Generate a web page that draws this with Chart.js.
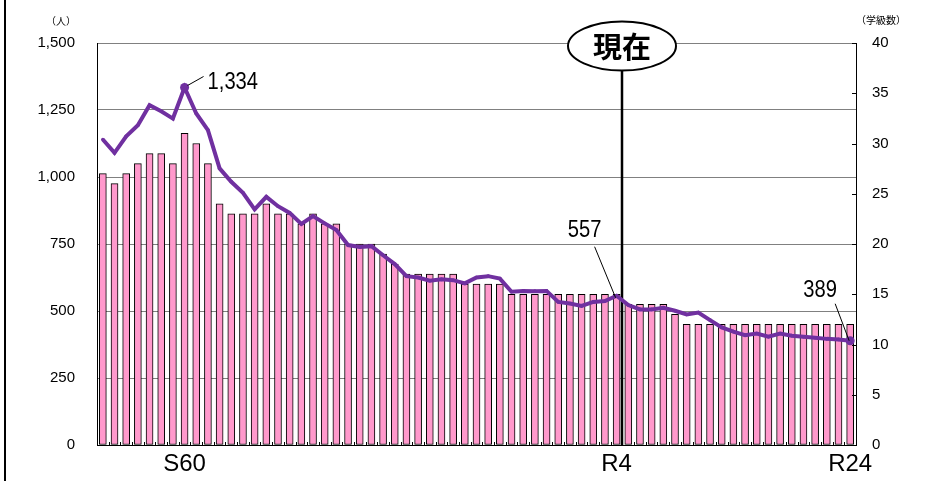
<!DOCTYPE html>
<html><head><meta charset="utf-8">
<script src="https://cdn.jsdelivr.net/npm/chart.js@4"></script>
<style>html,body{margin:0;padding:0;background:#fff;}#wrap{position:relative;width:938px;height:481px;}</style>
</head><body><div id="wrap"><canvas id="c" width="938" height="481"></canvas></div>
<script>
const categories = ['S53','S54','S55','S56','S57','S58','S59','S60','S61','S62','S63',
 'H1','H2','H3','H4','H5','H6','H7','H8','H9','H10','H11','H12','H13','H14','H15','H16','H17','H18','H19','H20',
 'H21','H22','H23','H24','H25','H26','H27','H28','H29','H30',
 'R1','R2','R3','R4','R5','R6','R7','R8','R9','R10','R11','R12','R13','R14','R15','R16','R17','R18','R19','R20','R21','R22','R23','R24'];
const students = [1140,1090,1152,1193,1268,1245,1218,1334,1237,1175,1032,982,941,879,926,891,866,825,854,827,802,
 746,739,742,708,675,630,625,613,618,615,603,625,630,621,572,575,574,575,534,528,519,534,537,557,
 522,506,506,512,501,487,494,466,439,423,410,416,404,416,408,404,400,396,394,389];
const classes = [27,26,27,28,29,29,28,31,30,28,24,23,23,23,24,23,23,22,23,22,22,20,20,20,19,18,
 17,17,17,17,17,16,16,16,16,15,15,15,15,15,15,15,15,15,15,14,14,14,14,13,
 12,12,12,12,12,12,12,12,12,12,12,12,12,12,12];
const xTickLabels = ['S60','R4','R24'];
const studentCallouts = [{cat:'S60', text:'1,334'},{cat:'R4', text:'557'},{cat:'R24', text:'389'}];
const currentCat = 'R4';
const currentLabel = '現在';
const leftUnit = '（人）';
const rightUnit = '（学級数）';

const FONT = "'Liberation Sans', Arial, sans-serif";
const PURPLE = '#7030A0';

const deco = {
  id: 'deco',
  beforeDatasetsDraw(chart) {
    const ctx = chart.ctx, x = chart.scales.x, a = chart.chartArea;
    const i = categories.indexOf(currentCat);
    const step = x.getPixelForValue(i + 1) - x.getPixelForValue(i);
    const vx = Math.round(x.getPixelForValue(i) + step * 0.45);
    ctx.save();
    ctx.strokeStyle = '#000'; ctx.lineWidth = 2.5;
    ctx.beginPath(); ctx.moveTo(vx, 60); ctx.lineTo(vx, a.bottom); ctx.stroke();
    ctx.restore();
  },
  afterDraw(chart) {
    const ctx = chart.ctx, x = chart.scales.x, y = chart.scales.y, y1 = chart.scales.y1, a = chart.chartArea;
    ctx.save();
    ctx.fillStyle = '#000';
    ctx.fillRect(4, 0, 2, 481);
    ctx.strokeStyle = '#000'; ctx.lineWidth = 1;
    const half = (x.getPixelForValue(1) - x.getPixelForValue(0)) / 2;
    for (let k = 0; k <= categories.length; k++) {
      const px = Math.round(x.getPixelForValue(k) - half) + 0.5;
      ctx.beginPath(); ctx.moveTo(px, a.bottom); ctx.lineTo(px, a.bottom - 3); ctx.stroke();
    }
    for (let v = 0; v <= 40; v += 5) {
      const py = Math.round(y1.getPixelForValue(v)) + 0.5;
      ctx.beginPath(); ctx.moveTo(a.right - 4, py); ctx.lineTo(a.right, py); ctx.stroke();
    }
    ctx.fillStyle = '#000';
    ctx.font = "10px 'Noto Sans CJK JP', sans-serif";
    ctx.textBaseline = 'middle';
    ctx.textAlign = 'right'; ctx.fillText(leftUnit, 76, 21);
    ctx.textAlign = 'left'; ctx.fillText(rightUnit, 856, 20);
    const offs = {
      'S60': {lx1: 3, ly1: -2, lx2: 19, ly2: -11, tx: 23, ty: -5, align: 'left'},
      'R4': {lx1: -1, ly1: 2, lx2: -22, ly2: -49, tx: -32, ty: -65, align: 'center'},
      'R24': {lx1: -1, ly1: 0, lx2: -15, ly2: -37, tx: -30, ty: -50, align: 'center'}
    };
    studentCallouts.forEach(c => {
      const idx = categories.indexOf(c.cat);
      const px = x.getPixelForValue(idx), py = y.getPixelForValue(students[idx]);
      const o = offs[c.cat];
      ctx.strokeStyle = '#000'; ctx.lineWidth = 1;
      ctx.beginPath(); ctx.moveTo(px + o.lx1, py + o.ly1); ctx.lineTo(px + o.lx2, py + o.ly2); ctx.stroke();
      ctx.save();
      ctx.translate(px + o.tx, py + o.ty);
      ctx.scale(0.84, 1);
      ctx.font = '24px ' + FONT;
      ctx.textAlign = o.align; ctx.textBaseline = 'middle';
      ctx.fillStyle = '#000';
      ctx.fillText(c.text, 0, 0);
      ctx.restore();
    });
    const i = categories.indexOf(currentCat);
    const step = x.getPixelForValue(i + 1) - x.getPixelForValue(i);
    const vx = Math.round(x.getPixelForValue(i) + step * 0.45);
    ctx.beginPath();
    ctx.ellipse(vx, 46, 54, 24.5, 0, 0, Math.PI * 2);
    ctx.fillStyle = '#fff'; ctx.fill();
    ctx.lineWidth = 2; ctx.strokeStyle = '#000'; ctx.stroke();
    ctx.fillStyle = '#000';
    ctx.font = "bold 29px 'Noto Sans CJK JP', sans-serif";
    ctx.textAlign = 'center'; ctx.textBaseline = 'middle';
    ctx.fillText(currentLabel, vx, 47);
    ctx.restore();
  }
};

new Chart(document.getElementById('c'), {
  data: {
    labels: categories,
    datasets: [
      {type: 'line', data: students, yAxisID: 'y', order: 0,
       borderColor: PURPLE, backgroundColor: PURPLE, borderWidth: 4, tension: 0,
       pointRadius: ctx => (ctx.dataIndex === 7 || ctx.dataIndex === 64) ? 4.5 : 1.8,
       pointBackgroundColor: PURPLE, pointBorderWidth: 0},
      {type: 'bar', data: classes, yAxisID: 'y1', order: 1,
       backgroundColor: '#FF99CC', borderColor: '#000', borderWidth: 1, borderSkipped: false,
       barThickness: 7}
    ]
  },
  options: {
    responsive: false, devicePixelRatio: 1, animation: false,
    layout: {padding: {top: 43, left: 0, right: 0, bottom: 0}},
    plugins: {legend: {display: false}, tooltip: {enabled: false}},
    scales: {
      x: {
        offset: true,
        grid: {display: true, drawOnChartArea: false, drawTicks: false},
        border: {display: true, color: '#000', width: 1},
        ticks: {autoSkip: false, maxRotation: 0, minRotation: 0, padding: 5, color: '#000',
          font: {family: FONT, size: 24},
          callback: (v, i) => xTickLabels.includes(categories[i]) ? categories[i] : ''},
        afterFit: s => { s.height = 36; }
      },
      y: {
        position: 'left', min: 0, max: 1500,
        grid: {color: '#808080', lineWidth: 1, drawTicks: false},
        border: {display: true, color: '#000', width: 1},
        ticks: {stepSize: 250, padding: 22, color: '#000', font: {family: FONT, size: 15},
          callback: v => v.toLocaleString('en-US')},
        afterFit: s => { s.width = 97; }
      },
      y1: {
        position: 'right', min: 0, max: 40,
        grid: {drawOnChartArea: false, drawTicks: false},
        border: {display: true, color: '#000', width: 1},
        ticks: {stepSize: 5, padding: 16, color: '#000', font: {family: FONT, size: 15}},
        afterFit: s => { s.width = 82; }
      }
    }
  },
  plugins: [deco]
});
</script></body></html>
